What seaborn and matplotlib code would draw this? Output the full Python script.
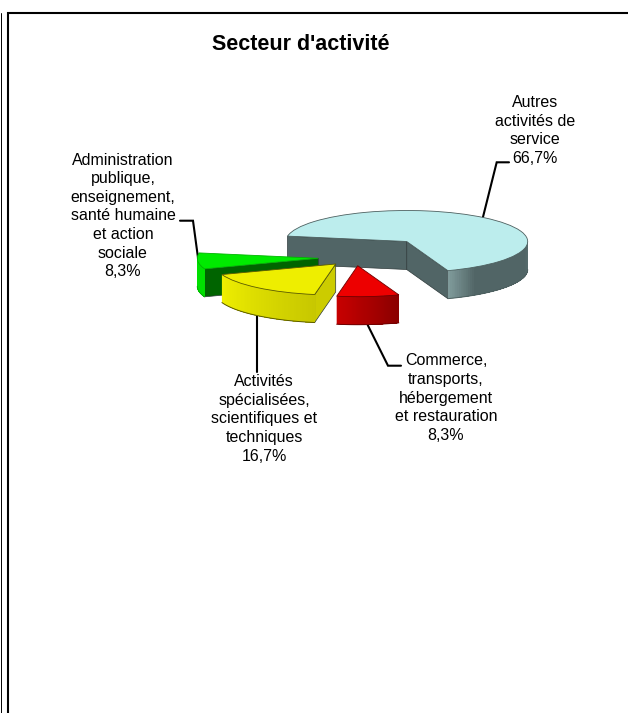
import numpy as np
import seaborn as sns
from matplotlib import pyplot as plt
from matplotlib.collections import PolyCollection
from matplotlib.patches import Polygon
from matplotlib.transforms import Affine2D

title = "Secteur d'activité"
categories = ["Autres\nactivités de\nservice",
              "Commerce,\ntransports,\nhébergement\net restauration",
              "Activités\nspécialisées,\nscientifiques et\ntechniques",
              "Administration\npublique,\nenseignement,\nsanté humaine\net action\nsociale"]
values = [66.7, 8.3, 16.7, 8.3]

top_colors = ["#BCEDED", "#ED0000", "#EEEE00", "#00EA00"]
edge_colors = ["#4D6060", "#6E0000", "#5A5A00", "#00B400"]
cut_colors = ["#516566", "#8B0000", "#CCCC00", "#006400"]
arc_shades = [["#7F9A9A", "#516566", "#516566", "#516566", "#516566", "#5A6F70"],
              ["#C80000", "#8B0000"],
              ["#F0F000", "#C8C800"],
              ["#00E000", "#00E000"]]

# layout in pixels
rx, ry, depth = 121, 31, 28
centers = [(406.7, 241.5), (357.7, 265.7), (335.7, 264), (318.3, 258.3)]
draw_order = [0, 3, 2, 1]
label_pos = [(535, 130.5), (446, 398), (264, 419), (123, 216)]
leaders = [[(483, 217), (496.7, 162.3), (509, 162.3)],
           [(367.7, 325), (388, 365.7), (401, 365.7)],
           [(257.3, 316), (257.3, 372)],
           [(198.3, 260), (193, 220.7), (180, 220.7)]]

sns.set_theme(style="white")
plt.rcParams['font.family'] = ['Liberation Sans', 'DejaVu Sans']

fig = plt.figure(figsize=(6.28, 7.13), dpi=100)
ax = fig.add_axes([0, 0, 1, 1])

wedges, _ = ax.pie(values, startangle=170, counterclock=False, colors=top_colors)
ax.set_aspect('auto')
ax.set_xlim(0, 628)
ax.set_ylim(713, 0)
ax.axis('off')


def point(center, angle):
    a = np.radians(angle)
    return center[0] + rx * np.cos(a), center[1] - ry * np.sin(a)


for rank, i in enumerate(draw_order):
    w = wedges[i]
    c = centers[i]
    base = 2 + rank * 3
    w.set_transform(Affine2D().scale(rx, -ry).translate(*c) + ax.transData)
    w.set_edgecolor(edge_colors[i])
    w.set_linewidth(0.6)
    w.set_zorder(base + 2)

    # faces of the cuts, only the ones turned to the viewer
    for angle, normal in [(w.theta1, w.theta1 - 90), (w.theta2, w.theta2 + 90)]:
        if np.sin(np.radians(normal)) < 0:
            x, y = point(c, angle)
            face = Polygon([c, (x, y), (x, y + depth), (c[0], c[1] + depth)],
                           facecolor=cut_colors[i], edgecolor="#2E3A3A", linewidth=0.5,
                           zorder=base + 1)
            ax.add_patch(face)

    # outer wall, front half of the ellipse
    # each quad runs to the end of the wall so the next one covers the seam
    steps = np.linspace(max(w.theta1, -180), min(w.theta2, 0), 61)
    shades = sns.blend_palette(arc_shades[i], n_colors=60)
    quads = []
    for s1 in steps[:-1]:
        rest = steps[steps >= s1]
        upper = [point(c, s) for s in rest]
        lower = [(x, y + depth) for x, y in upper]
        quads.append(upper + lower[::-1])
    wall = PolyCollection(quads, facecolors=shades, edgecolors='none', zorder=base + 1)
    ax.add_collection(wall)
    xs, ys = zip(*[point(c, s) for s in steps])
    ax.plot(xs, np.array(ys) + depth, color=edge_colors[i], lw=0.7, zorder=base + 1.5)

for line in leaders:
    xs, ys = zip(*line)
    ax.plot(xs, ys, color="black", lw=1.5, zorder=1, solid_joinstyle='miter')

for cat, val, (x, y) in zip(categories, values, label_pos):
    txt = f"{cat}\n{val:.1f}%".replace(".", ",")
    ax.text(x, y, txt, ha='center', va='center', fontsize=11.5, linespacing=1.3,
            color="black", zorder=30)

ax.text(301, 44.5, title, ha='center', va='center', fontsize=15.5, fontweight='bold',
        color="black", zorder=30)

# frame of the sheet
ax.plot([8, 8, 628], [713, 13, 13], color="black", lw=1.5, solid_joinstyle='miter', zorder=30)
ax.plot([0.5, 0.5], [713, 13], color="black", lw=0.7, zorder=30)

fig.savefig("out.png", dpi=100)
